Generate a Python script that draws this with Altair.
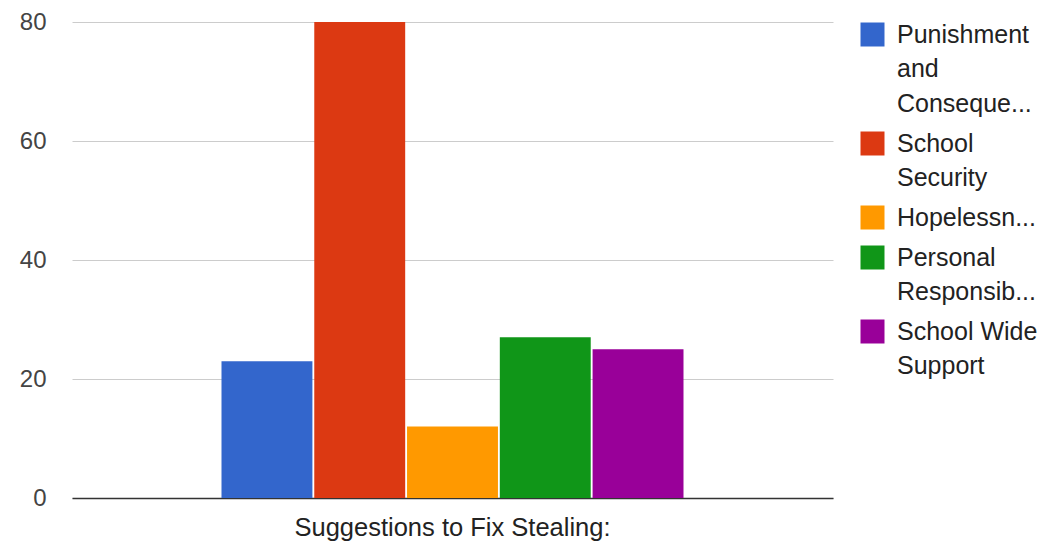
import json
import altair as alt
import pandas as pd

# ---- data ----
category = "Suggestions to Fix Stealing:"
series = [
    "Punishment and Consequences",
    "School Security",
    "Hopelessness",
    "Personal Responsibility",
    "School Wide Support",
]
values = [23, 80, 12, 27, 25]
colors = ["#3366cc", "#dc3912", "#ff9900", "#109618", "#990099"]
legend_lines = [
    ["Punishment", "and", "Conseque..."],
    ["School", "Security"],
    ["Hopelessn..."],
    ["Personal", "Responsib..."],
    ["School Wide", "Support"],
]
y_ticks = [0, 20, 40, 60, 80]

df = pd.DataFrame({"category": [category] * len(series), "series": series, "value": values})

# legend label expression: full series name -> displayed (wrapped / truncated) lines
label_expr = "datum.label"
for name, lines in reversed(list(zip(series, legend_lines))):
    label_expr = f"datum.label === {json.dumps(name)} ? {json.dumps(lines)} : ({label_expr})"

FONT = "Arial, Liberation Sans"

chart = (
    alt.Chart(df)
    .mark_bar()
    .encode(
        x=alt.X(
            "category:N",
            title=None,
            scale=alt.Scale(paddingInner=0, paddingOuter=0.3236),
            axis=alt.Axis(
                labelAngle=0,
                labelFontSize=25.5,
                labelColor="#222222",
                labelFont=FONT,
                labelPadding=29,
                labelLimit=800,
                ticks=False,
                tickSize=0,
                domainColor="#333333",
                domainWidth=1.5,
                grid=False,
            ),
        ),
        xOffset=alt.XOffset(
            "series:N", sort=series, scale=alt.Scale(paddingInner=0.02, paddingOuter=0)
        ),
        y=alt.Y(
            "value:Q",
            title=None,
            scale=alt.Scale(domain=[0, 80], nice=False),
            axis=alt.Axis(
                values=y_ticks,
                domain=False,
                ticks=False,
                tickSize=0,
                labelPadding=26,
                labelFontSize=24,
                labelColor="#444444",
                labelFont=FONT,
                labelOffset=12,
                gridColor="#cccccc",
                gridWidth=1,
            ),
        ),
        color=alt.Color(
            "series:N",
            sort=series,
            scale=alt.Scale(domain=series, range=colors),
            legend=alt.Legend(
                title=None,
                orient="none",
                legendX=788,
                legendY=0,
                symbolType="square",
                symbolSize=576,
                symbolStrokeWidth=0,
                labelFontSize=25,
                labelFont=FONT,
                labelColor="#222222",
                labelBaseline="top",
                labelOffset=12,
                labelLimit=400,
                rowPadding=14,
                padding=0,
                labelExpr=label_expr,
            ),
        ),
    )
    .properties(
        width=761,
        height=476,
        autosize=alt.AutoSizeParams(type="none"),
        padding={"left": 64, "top": 14, "right": 204, "bottom": 46},
    )
    .configure(style={"guide-label": {"dy": -12, "lineHeight": 34.5}})
    .configure_view(strokeWidth=0, stroke="transparent")
)

chart.save("out.html", embed_options={"renderer": "svg", "actions": False})
